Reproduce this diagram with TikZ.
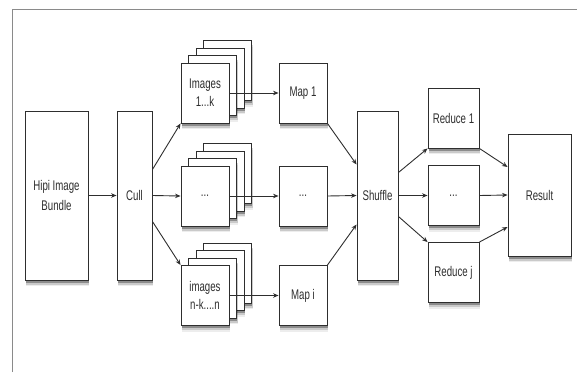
\documentclass[tikz,border=0pt]{standalone}
\usepackage{fontspec}
\setmainfont{Liberation Sans}[FakeStretch=0.69]
\usetikzlibrary{arrows.meta,shadows}
\definecolor{lc}{HTML}{2E2E2E}
\definecolor{fc}{HTML}{8A8A8A}
\tikzset{
  box/.style={draw=lc, line width=0.9pt, fill=white, inner sep=0pt,
    text=lc, align=center, font=\fontsize{14}{20}\selectfont,
    drop shadow={shadow xshift=0.6pt, shadow yshift=-2.5pt, opacity=0.30, fill=black},
    drop shadow={shadow xshift=1.0pt, shadow yshift=-4.5pt, opacity=0.15, fill=black},
    drop shadow={shadow xshift=1.4pt, shadow yshift=-6pt, opacity=0.07, fill=black}},
  small/.style={box, minimum width=48pt, minimum height=60pt},
  tall/.style={box, minimum width=#1, minimum height=169pt},
  red/.style={box, minimum width=51pt, minimum height=60pt},
  arr/.style={draw=lc, line width=0.9pt, -{Stealth[length=5.5pt,width=4.5pt]}},
}
\begin{document}
\begin{tikzpicture}[x=1pt,y=-1pt]
\useasboundingbox (0,0) rectangle (577,372);
\draw[fc, line width=1pt] (12,372) -- (12,9) -- (577,9);

\node[tall=63pt] (hipi) at (56.5,195.5) {Hipi Image\\Bundle};
\node[tall=35pt] (cull) at (134.5,195.5) {Cull};

% image stacks
\foreach \r/\y in {a/93, b/196, c/295.5}{
  \node[small] (\r3) at (227.5,\y-22.5) {};
  \node[small] (\r2) at (220,\y-15) {};
  \node[small] (\r1) at (212.5,\y-7.5) {};
}
\node[small, font=\fontsize{14}{18}\selectfont] (img1) at (205,93) {Images\\1...k};
\node[small] (img2) at (205,196) {...};
\node[small, font=\fontsize{14}{18}\selectfont] (img3) at (205,295.5) {images\\n-k....n};

\node[small] (map1) at (303,93) {Map 1};
\node[small] (map2) at (303,196) {...};
\node[small] (map3) at (303,295.5) {Map i};

\node[tall=41pt] (shuf) at (377.5,195.5) {Shuffle};

\node[red] (red1) at (453.5,118) {Reduce 1};
\node[red] (red2) at (453.5,195.5) {...};
\node[red] (red3) at (453.5,272.5) {Reduce j};

\node[box, minimum width=63pt, minimum height=122pt] (res) at (539.5,195) {Result};

\draw[arr] (hipi.east) -- (cull.west);
\draw[arr] ([yshift=26pt]cull.east) -- (img1.south west);
\draw[arr] (cull.east) -- (img2.west);
\draw[arr] ([yshift=-26pt]cull.east) -- (img3.north west);

\draw[arr] (img1.east) -- (map1.west);
\draw[arr] (img2.east) -- (map2.west);
\draw[arr] (img3.east) -- (map3.west);

\draw[arr] (map1.south east) -- ([yshift=31pt]shuf.west);
\draw[arr] (map2.east) -- (shuf.west);
\draw[arr] (map3.north east) -- ([yshift=-29pt]shuf.west);

\draw[arr] ([yshift=23pt]shuf.east) -- (red1.south west);
\draw[arr] (shuf.east) -- (red2.west);
\draw[arr] ([yshift=-21pt]shuf.east) -- (red3.north west);

\draw[arr] (red1.south east) -- ([yshift=28pt]res.west);
\draw[arr] (red2.east) -- (res.west);
\draw[arr] (red3.north east) -- ([yshift=-32pt]res.west);
\end{tikzpicture}
\end{document}
